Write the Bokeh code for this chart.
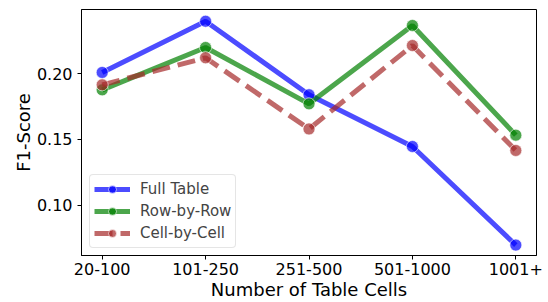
from bokeh.plotting import figure
from bokeh.models import FixedTicker, Range1d, Legend, LegendItem, PrintfTickFormatter
from bokeh.embed import file_html
from bokeh.resources import INLINE

categories = ["20-100", "101-250", "251-500", "501-1000", "1001+"]
full_table = [0.2008, 0.2396, 0.1839, 0.1447, 0.0700]
row_by_row = [0.1876, 0.2197, 0.1770, 0.2364, 0.1533]
cell_by_cell = [0.1914, 0.2119, 0.1580, 0.2212, 0.1417]
y_ticks = [0.10, 0.15, 0.20]

x = list(range(len(categories)))
FONT = "DejaVu Sans"

p = figure(width=548, height=302, output_backend="svg", toolbar_location=None,
           x_range=Range1d(-0.2, 4.2), y_range=Range1d(0.0621, 0.2485),
           min_border_left=81, min_border_right=12, min_border_top=9, min_border_bottom=47)
p.xgrid.visible = False
p.ygrid.visible = False
p.outline_line_color = "black"
p.outline_line_width = 1
p.background_fill_color = "white"

series = [
    ("Full Table", full_table, "blue", None),
    ("Row-by-Row", row_by_row, "green", None),
    ("Cell-by-Cell", cell_by_cell, "brown", "18 8"),
]
items = []
for name, ys, color, dash in series:
    kw = {}
    if dash:
        kw["line_dash"] = dash
    l = p.line(x, ys, line_color=color, line_width=5, line_alpha=0.7, **kw)
    s = p.scatter(x, ys, size=12, fill_color=color, fill_alpha=0.7,
                  line_color="white", line_alpha=0.6, line_width=1)
    items.append(LegendItem(label=name, renderers=[l, s]))

legend = Legend(items=items, location=(8, 7))
legend.label_text_font = FONT
legend.label_text_font_size = "15px"
legend.glyph_width = 36
legend.glyph_height = 20
legend.label_height = 20
legend.label_standoff = 10
legend.spacing = 2
legend.padding = 4
legend.margin = 0
legend.border_line_color = "#cccccc"
legend.border_line_width = 1
legend.background_fill_alpha = 0.8
try:
    legend.border_radius = 4
except Exception:
    pass
p.add_layout(legend, "center")

p.xaxis.ticker = FixedTicker(ticks=x)
p.xaxis.major_label_overrides = {i: c for i, c in enumerate(categories)}
p.yaxis.ticker = FixedTicker(ticks=y_ticks)
p.yaxis.formatter = PrintfTickFormatter(format="%.2f")

for ax in (p.xaxis, p.yaxis):
    ax.axis_line_color = "black"
    ax.major_tick_line_color = "black"
    ax.major_tick_out = 4
    ax.major_tick_in = 0
    ax.minor_tick_line_color = None
    ax.major_label_text_font = FONT
    ax.major_label_text_font_size = "16px"
    ax.major_label_text_color = "black"
    ax.axis_label_text_font = FONT
    ax.axis_label_text_font_size = "18px"
    ax.axis_label_text_font_style = "normal"
    ax.axis_label_text_color = "black"

p.xaxis.major_label_standoff = 3
p.xaxis.axis_label_standoff = 1
p.yaxis.major_label_standoff = 5
p.xaxis.axis_label = "Number of Table Cells"
p.yaxis.axis_label = "F1-Score"
p.yaxis.axis_label_standoff = 0

open("out.html", "w").write(file_html(p, INLINE))
